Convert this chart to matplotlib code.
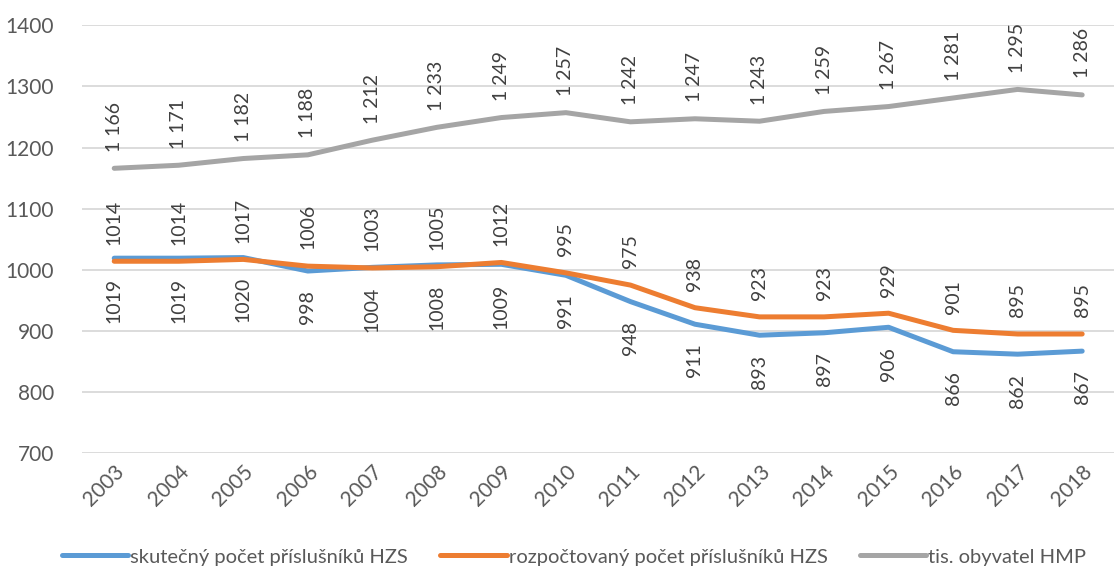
import matplotlib.pyplot as plt

# Data
years = [str(y) for y in range(2003, 2019)]
skutecny = [1019, 1019, 1020, 998, 1004, 1008, 1009, 991, 948, 911, 893, 897, 906, 866, 862, 867]
rozpoctovany = [1014, 1014, 1017, 1006, 1003, 1005, 1012, 995, 975, 938, 923, 923, 929, 901, 895, 895]
obyvatel = [1166, 1171, 1182, 1188, 1212, 1233, 1249, 1257, 1242, 1247, 1243, 1259, 1267, 1281, 1295, 1286]

plt.rcParams['font.family'] = ['Lato', 'DejaVu Sans']

fig = plt.figure(figsize=(11.15, 5.73), dpi=100)
ax = fig.add_axes([0.0735, 0.209, 0.926, 0.747])

x = range(len(years))
txt = '#404040'
lblsize = 14

ax.plot(x, skutecny, color='#5B9BD5', lw=3.6, solid_capstyle='round',
        label='skutečný počet příslušníků HZS', zorder=3)
ax.plot(x, rozpoctovany, color='#ED7D31', lw=3.6, solid_capstyle='round',
        label='rozpočtovaný počet příslušníků HZS', zorder=4)
ax.plot(x, obyvatel, color='#A5A5A5', lw=3.6, solid_capstyle='round',
        label='tis. obyvatel HMP', zorder=3)

# Data labels (rotated vertically)
for i in x:
    ax.annotate(str(skutecny[i]), (i, skutecny[i]), xytext=(0, -14),
                textcoords='offset points', rotation=90, ha='center', va='top',
                fontsize=lblsize, color=txt)
    ax.annotate(str(rozpoctovany[i]), (i, rozpoctovany[i]), xytext=(0, 12),
                textcoords='offset points', rotation=90, ha='center', va='bottom',
                fontsize=lblsize, color=txt)
    lab = f"{obyvatel[i]:,}".replace(',', ' ')
    ax.annotate(lab, (i, obyvatel[i]), xytext=(0, 12),
                textcoords='offset points', rotation=90, ha='center', va='bottom',
                fontsize=lblsize, color=txt)

ax.set_xlim(-0.5, len(years) - 0.5)
ax.set_ylim(700, 1400)
ax.set_yticks(range(700, 1401, 100))
ax.set_xticks(list(x))
ax.set_xticklabels(years, rotation=45, ha='right', rotation_mode='anchor')

ax.grid(axis='y', color='#D9D9D9', lw=1.3)
ax.set_axisbelow(True)
for s in ax.spines.values():
    s.set_visible(False)
ax.tick_params(length=0, labelsize=15, colors='#595959')
ax.tick_params(axis='y', pad=20)
ax.tick_params(axis='x', pad=6)

ax.legend(loc='center', bbox_to_anchor=(0.515, 0.028), bbox_transform=fig.transFigure,
          ncol=3, frameon=False, fontsize=14.5, handlelength=3.3, handletextpad=0.1,
          columnspacing=1.6, labelcolor='#595959')

fig.savefig('out.png', dpi=100)
